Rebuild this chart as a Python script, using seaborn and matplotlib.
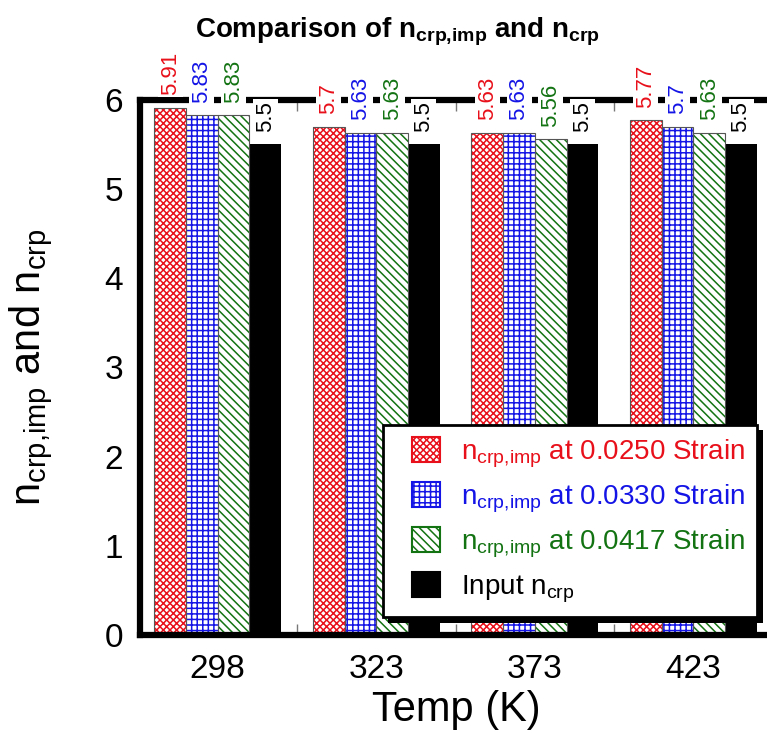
import numpy as np
import pandas as pd
import matplotlib
matplotlib.use('Agg')
import matplotlib.pyplot as plt
import matplotlib.patheffects as pe
import seaborn as sb
from matplotlib.patches import Rectangle
from matplotlib.container import BarContainer
from matplotlib.legend_handler import HandlerPatch, update_from_first_child

temps = ['298', '323', '373', '423']
n_0250 = [5.91, 5.70, 5.63, 5.77]
n_0330 = [5.83, 5.63, 5.63, 5.70]
n_0417 = [5.83, 5.63, 5.56, 5.63]
n_input = [5.5, 5.5, 5.5, 5.5]
series = ['$n_{crp{,}imp}$ at 0.0250 Strain', '$n_{crp{,}imp}$ at 0.0330 Strain',
          '$n_{crp{,}imp}$ at 0.0417 Strain', 'Input $n_{crp}$']
colors = ['#e8101a', '#1414e6', '#137313', 'black']
hatches = ['xxxxx', '+++', '\\\\\\\\', '']

df = pd.DataFrame({
    'Temp': temps * 4,
    'n': n_0250 + n_0330 + n_0417 + n_input,
    'series': np.repeat(series, 4),
})

sb.set_style('white')
plt.rcParams['font.family'] = ['Liberation Sans', 'DejaVu Sans']
plt.rcParams['mathtext.fontset'] = 'custom'
plt.rcParams['mathtext.rm'] = 'Liberation Sans'
plt.rcParams['mathtext.bf'] = 'Liberation Sans:bold'
plt.rcParams['mathtext.default'] = 'regular'
plt.rcParams['hatch.linewidth'] = 1.1
plt.rcParams['text.color'] = 'black'
plt.rcParams['axes.labelcolor'] = 'black'
plt.rcParams['xtick.color'] = 'black'
plt.rcParams['ytick.color'] = 'black'

fig = plt.figure(figsize=(7.67, 7.33), dpi=100)
ax = fig.add_axes([0.1825, 0.1337, 0.825, 0.730])

sb.barplot(data=df, x='Temp', y='n', hue='series', order=temps, hue_order=series,
           palette=colors, width=0.8, ax=ax, legend=False)

# hatched bars: hatch drawn in series colour, thin grey outline on top
for cont, col, h in zip(ax.containers, colors, hatches):
    for p in cont.patches:
        if h:
            p.set_facecolor('white')
            p.set_edgecolor(col)
            p.set_hatch(h)
            p.set_linewidth(0)
            ax.add_patch(Rectangle(p.get_xy(), p.get_width(), p.get_height(),
                                   fill=False, edgecolor='#555555', lw=0.8, zorder=p.get_zorder()))
        else:
            p.set_facecolor('black')
            p.set_edgecolor('black')
            p.set_linewidth(0)
        ax.annotate(f'{p.get_height():g}', (p.get_x() + p.get_width() / 2, p.get_height()),
                    xytext=(0, 9), textcoords='offset points', rotation=90,
                    ha='center', va='bottom', color=col, fontsize=16, zorder=10,
                    annotation_clip=False,
                    bbox=dict(facecolor='white', edgecolor='none', pad=1.5))

ax.set_ylim(0, 6)
ax.set_xlim(-0.49, 3.5)
ax.set_yticks(range(7))
ax.set_xticks(range(4))
ax.set_xticks([0.5, 1.5, 2.5], minor=True)
ax.tick_params(axis='x', which='major', length=0, labelsize=24, pad=14)
ax.tick_params(axis='y', which='major', direction='in', length=8, width=1, color='#777777',
               labelsize=24, pad=12)
ax.tick_params(axis='x', which='minor', direction='in', length=8, width=1, color='#777777',
               top=True, bottom=True)
for s in ['left', 'bottom', 'top']:
    ax.spines[s].set_linewidth(4.5)
    ax.spines[s].set_color('black')
ax.spines['right'].set_visible(False)

ax.set_xlabel('Temp (K)', fontsize=30, labelpad=3)
ax.set_ylabel('$n_{crp{,}imp}$ and $n_{crp}$', fontsize=30, labelpad=36)
fig.text(0.518, 0.978, r'Comparison of $\mathbf{n_{crp{,}imp}}$ and $\mathbf{n_{crp}}$',
         ha='center', va='top', fontsize=20, fontweight='bold')

leg = ax.legend(ax.containers, series, loc='lower right', bbox_to_anchor=(0.987, 0.158),
                bbox_transform=fig.transFigure, fontsize=20, frameon=True, fancybox=False,
                framealpha=1, edgecolor='black',
                handler_map={BarContainer: HandlerPatch(xpad=0.6, update_func=update_from_first_child)},
                handlelength=1.6, handleheight=1.0, handletextpad=0.75, borderpad=0.45,
                labelspacing=0.45, borderaxespad=0)
leg.get_frame().set_linewidth(2)
leg.get_frame().set_path_effects([pe.SimplePatchShadow(offset=(4, -4), shadow_rgbFace='black',
                                                       alpha=1), pe.Normal()])
leg.set_zorder(20)
for t, col in zip(leg.get_texts(), colors):
    t.set_color(col)
for hd in leg.legend_handles:
    hd.set_linewidth(1.5)

fig.savefig('out.png', dpi=100)
